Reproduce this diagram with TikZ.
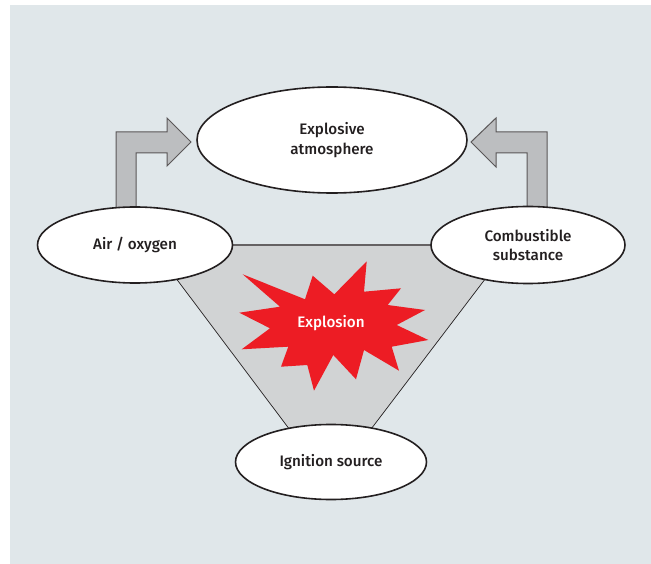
\documentclass[tikz,border=0pt]{standalone}
\usepackage{fontspec}
\setmainfont{Fira Sans}[BoldFont={Fira Sans Medium}]
\usetikzlibrary{shapes.geometric}
\definecolor{bgc}{HTML}{E0E7EA}
\definecolor{trap}{HTML}{D1D3D4}
\definecolor{arr}{HTML}{BCBEC0}
\definecolor{ink}{HTML}{231F20}
\definecolor{boom}{HTML}{ED1C24}
\tikzset{
  lbl/.style={font=\fontsize{15.2}{19.5}\selectfont\bfseries},
  oval/.style={ellipse, draw=ink, line width=1.6pt, fill=white, inner sep=0pt,
    lbl, text=ink, align=center},
  blockarrow/.style={fill=arr, draw=ink!75, line width=1pt, line join=miter},
}
\begin{document}
\begin{tikzpicture}[x=1pt,y=-1pt]
\useasboundingbox (0,0) rectangle (651,564);
\fill[bgc] (10,5) rectangle (651,564);
% trapezoid
\fill[trap] (151,245) -- (511,245) -- (346,462) -- (314,462) -- cycle;
\draw[ink!70, line width=1.4pt] (151,245) -- (511,245);
\draw[ink, line width=0.7pt] (151,245) -- (314,462);
\draw[ink, line width=0.7pt] (511,245) -- (346,462);
% block arrows
\draw[blockarrow] (116,215) -- (116,132) -- (167,132) -- (167,118) -- (191,142) -- (167,166) -- (167,153) -- (136,153) -- (136,215);
\draw[blockarrow] (547,215) -- (547,132) -- (496,132) -- (496,118) -- (471,142) -- (496,167) -- (496,153) -- (527,153) -- (527,215);
% ellipses
\node[oval, minimum width=270pt, minimum height=106pt] (atm) at (332,140) {Explosive\\atmosphere};
\node[oval, minimum width=195pt, minimum height=76pt] (air) at (135,245) {Air / oxygen};
\node[oval, minimum width=194pt, minimum height=77pt] (comb) at (528,245) {Combustible\\substance};
\node[oval, minimum width=191pt, minimum height=75pt] (ign) at (331,462) {Ignition source};
% explosion star
\fill[boom] (242.7,274.3) -- (305,299.3) -- (312.7,275.7) -- (334.3,294.3) -- (366.7,261.3) -- (364,291.7) -- (401,288.3) -- (387.7,305) -- (425,310) -- (396.7,325) -- (428.3,340) -- (391.7,346.7) -- (399,370.7) -- (364,350) -- (356,379.3) -- (333.3,355) -- (314,390.7) -- (307.3,365) -- (281,366.7) -- (288.3,346.7) -- (241.7,349.3) -- (270,328.3) -- (239.3,312.7) -- (280,306.7) -- cycle;
\node[text=white, lbl] (expl) at (331,323) {Explosion};
\end{tikzpicture}
\end{document}
